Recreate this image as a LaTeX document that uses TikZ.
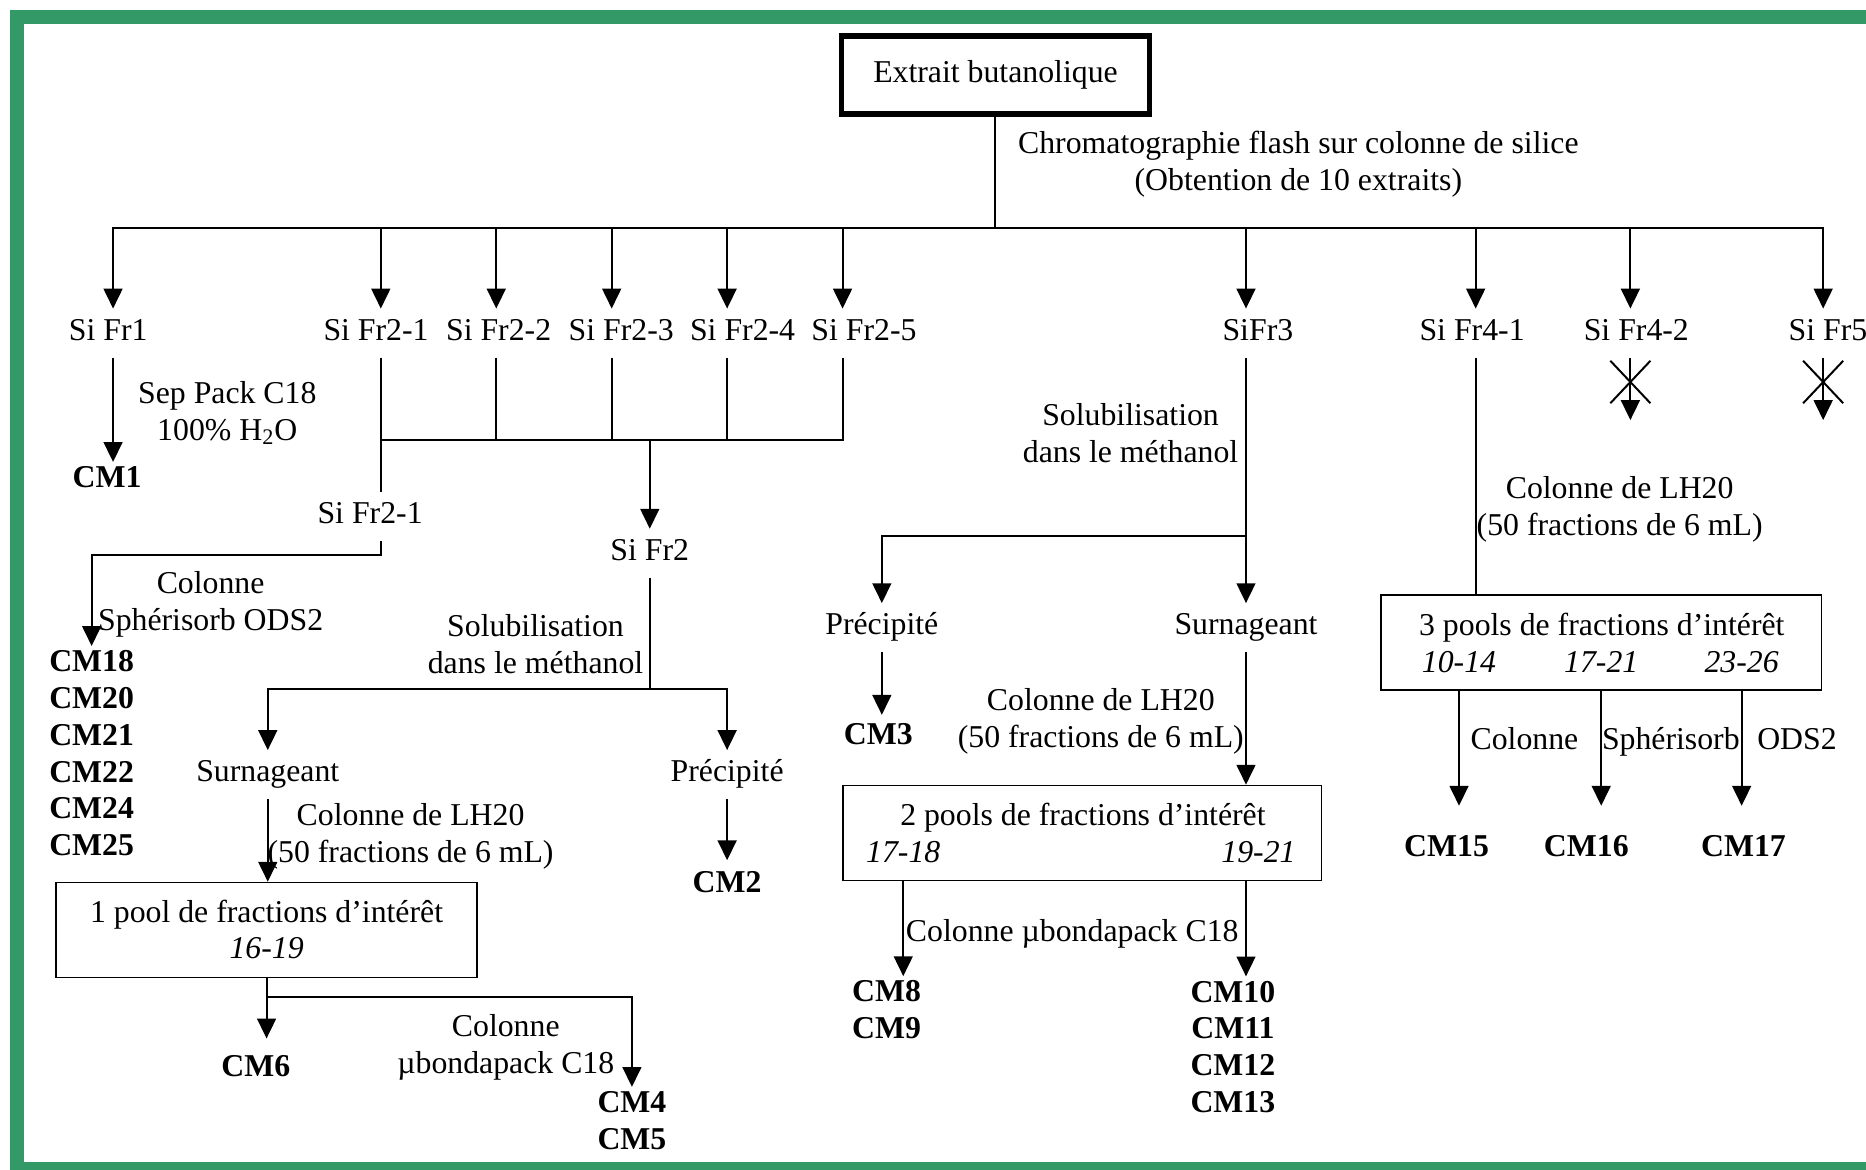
\documentclass[tikz,border=0pt]{standalone}
\usepackage{fontspec}
\setmainfont{Liberation Serif}
\usetikzlibrary{arrows.meta,shapes.misc}
\definecolor{framegreen}{HTML}{339966}
\newcommand{\diagfont}{\fontsize{15.2pt}{17.6pt}\selectfont}

\begin{document}
\begin{tikzpicture}[x=0.02cm, y=-0.02cm, font=\diagfont,
    ln/.style={line width=0.95pt},
    arr/.style={ln, -{Triangle[length=9.5pt,width=9pt]}},
    lab/.style={anchor=base, text height=10pt, text depth=3pt, inner ysep=5pt, inner xsep=2pt},
    note/.style={align=center, inner sep=0pt},
    cmlist/.style={font=\diagfont\bfseries, align=center, inner sep=2pt},
    pool/.style={draw, line width=0.7pt, minimum height=1.6cm},
    fracnum/.style={font=\diagfont\itshape, inner sep=0pt},
    xmark/.style={cross out, draw, line width=0.95pt, inner sep=0pt, minimum width=0.64cm, minimum height=0.68cm}]
  \useasboundingbox (0,0) rectangle (1568,983);
  \begin{scope}
    \clip (0,0) rectangle (1568,983);
    \draw[framegreen, line width=0.24cm] (14,14.5) rectangle (1610,982);
  \end{scope}

  \node[draw, line width=2.5pt, minimum width=5.17cm, minimum height=1.31cm] (E) at (836.5,63) {Extrait butanolique};
  \coordinate (T) at (836.5,192);
  \draw[ln] (E) -- (T);
  \node[note] (chrom) at (1091,138) {Chromatographie flash sur colonne de silice\\(Obtention de 10 extraits)};

  \node[lab] (F1) at (91,286) {Si Fr1};
  \node[lab] (F21) at (316,286) {Si Fr2-1};
  \node[lab] (F22) at (419,286) {Si Fr2-2};
  \node[lab] (F23) at (522,286) {Si Fr2-3};
  \node[lab] (F24) at (624,286) {Si Fr2-4};
  \node[lab] (F25) at (726,286) {Si Fr2-5};
  \node[lab] (F3) at (1057,286) {SiFr3};
  \node[lab] (F41) at (1237,286) {Si Fr4-1};
  \node[lab] (F42) at (1375,286) {Si Fr4-2};
  \node[lab] (F5) at (1536,286) {Si Fr5};
  \foreach \n/\dx in {F1/4,F21/4,F22/-2,F23/-8,F24/-13,F25/-18,F3/-10,F41/3,F42/-5,F5/-4}{
    \coordinate (t\n) at ([xshift=\dx*0.02cm]\n.north);
    \coordinate (b\n) at ([xshift=\dx*0.02cm]\n.south);
    \draw[arr] (T) -| (t\n);
  }

  \node[cmlist] (CM1) at (90,401) {CM1};
  \draw[arr] (bF1) -- (bF1 |- CM1.north);
  \node[note] (sep) at (191,347) {Sep Pack C18\\100\% H\textsubscript{2}O};

  \coordinate (J) at (546,370);
  \node[lab] (F21b) at (311,440) {Si Fr2-1};
  \node[lab] (S2) at (546,471) {Si Fr2};
  \foreach \n in {F21,F22,F23,F24,F25} \draw[ln] (b\n) |- (J);
  \draw[ln] (bF21) -- (bF21 |- F21b.north);
  \draw[arr] (J) -- (S2);

  \coordinate (K) at (320,466);
  \node[cmlist] (L18) at (77,633) {CM18\\CM20\\CM21\\CM22\\CM24\\CM25};
  \draw[arr] (bF21 |- F21b.south) -- (K) -| (L18);
  \node[note] (ods1) at (177,508) {Colonne\\Sphérisorb ODS2};

  \coordinate (J2) at (546,579);
  \node[note] (sol1) at (450,541) {Solubilisation\\dans le méthanol};
  \node[lab] (SuA) at (225,657) {Surnageant};
  \node[lab] (PrA) at (611,657) {Précipité};
  \draw[ln] (S2) -- (J2);
  \draw[arr] (J2) -| (SuA);
  \draw[arr] (J2) -| (PrA);

  \node[cmlist, inner ysep=5pt] (CM2) at (611,741) {CM2};
  \draw[arr] (PrA) -- (PrA |- CM2.north);

  \node[pool, minimum width=7.08cm] (P1) at (224,781.5) {};
  \draw[arr] (SuA) -- (SuA |- P1.north);
  \node[note] (lh1) at (345,703) {Colonne de LH20\\(50 fractions de 6 mL)};
  \node (P1h) at (224,768.5) {1 pool de fractions d’intérêt};
  \node[fracnum] (n1619) at (224,797) {16-19};

  \node[cmlist, inner ysep=8pt] (CM6) at (215,896) {CM6};
  \node[cmlist] (C45) at (531,941.6) {CM4\\CM5};
  \coordinate (J3) at (224,838);
  \draw[arr] (P1) -- (P1 |- CM6.north);
  \draw[arr] (J3) -| (C45);
  \node[note] (mu1) at (425,880) {Colonne\\µbondapack C18};

  \node[note] (sol2) at (950,364) {Solubilisation\\dans le méthanol};
  \node[lab] (SuB) at (1047,533.5) {Surnageant};
  \node[lab] (PrB) at (741,533.5) {Précipité};
  \coordinate (J4) at (1047,450);
  \draw[arr] (bF3) -- (bF3 |- SuB.north);
  \draw[arr] (J4) -| (PrB);

  \node[cmlist, inner ysep=4pt] (CM3) at (738,617) {CM3};
  \draw[arr] (PrB) -- (PrB |- CM3.north);

  \node[pool, minimum width=8.04cm] (P2) at (909.5,700) {};
  \draw[arr] (SuB) -- (SuB |- P2.north);
  \node[note] (lh2) at (925,606) {Colonne de LH20\\(50 fractions de 6 mL)};
  \node (P2h) at (910,687.5) {2 pools de fractions d’intérêt};
  \node[fracnum] (n1718) at (759,716) {17-18};
  \node[fracnum] (n1921) at (1057.5,716) {19-21};

  \node[cmlist] (C89) at (745,848.6) {CM8\\CM9};
  \node[cmlist] (C1013) at (1036,879.7) {CM10\\CM11\\CM12\\CM13};
  \draw[arr] (P2.south -| n1718) -- (n1718 |- C89.north);
  \draw[arr] (P2.south -| SuB) -- (SuB |- C1013.north);
  \node[note] (mu2) at (901,784.5) {Colonne µbondapack C18};

  \node[pool, minimum width=7.41cm] (P3) at (1345.5,540) {};
  \draw[ln] (bF41) -- (bF41 |- P3.north);
  \node[note] (lh3) at (1361,428) {Colonne de LH20\\(50 fractions de 6 mL)};
  \node (P3h) at (1346,527.5) {3 pools de fractions d’intérêt};
  \node[fracnum] (n1014) at (1226,556) {10-14};
  \node[fracnum] (n1721) at (1345.5,556) {17-21};
  \node[fracnum] (n2326) at (1463.5,556) {23-26};

  \node[cmlist, inner ysep=14pt] (CM15) at (1215.5,711) {CM15};
  \node[cmlist, inner ysep=14pt] (CM16) at (1333,711) {CM16};
  \node[cmlist, inner ysep=14pt] (CM17) at (1465,711) {CM17};
  \draw[arr] (P3.south -| n1014) -- (n1014 |- CM15.north);
  \draw[arr] (P3.south -| n1721) -- (n1721 |- CM16.north);
  \draw[arr] (P3.south -| n2326) -- (n2326 |- CM17.north);
  \node[lab] (col) at (1281,630) {Colonne};
  \node[lab] (sph) at (1404,630) {Sphérisorb};
  \node[lab] (ods) at (1510,630) {ODS2};

  \node[xmark] (X42) at (1370,321) {};
  \node[xmark] (X5) at (1532,321) {};
  \coordinate (e42) at (1370,353);
  \coordinate (e5) at (1532,353);
  \draw[arr] (bF42) -- (e42);
  \draw[arr] (bF5) -- (e5);
\end{tikzpicture}
\end{document}
